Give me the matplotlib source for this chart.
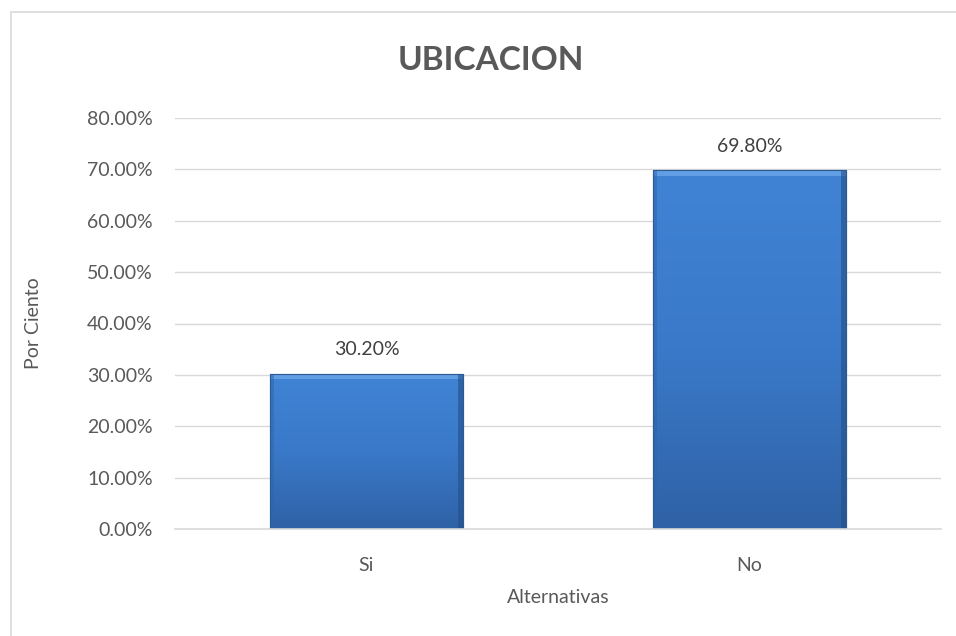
import numpy as np
import matplotlib.pyplot as plt
from matplotlib.patches import Rectangle
from matplotlib.colors import LinearSegmentedColormap

categorias = ["Si", "No"]
porcentajes = [30.20, 69.80]
ticks_y = [0, 10, 20, 30, 40, 50, 60, 70, 80]

plt.rcParams['font.family'] = ['Lato', 'DejaVu Sans']
gris = '#595959'

fig = plt.figure(figsize=(9.56, 6.36), dpi=100)
# chart frame (cut off at the right/bottom edges)
fig.patches.append(Rectangle((11 / 956, -0.01), 1.0, 1 - 12 / 636 + 0.01,
                             transform=fig.transFigure, fill=False,
                             edgecolor='#d9d9d9', linewidth=1.2))

ax = fig.add_axes([175 / 956, 1 - 529 / 636, 766 / 956, (529 - 118) / 636])
x = np.arange(len(categorias))
ancho = 0.505

ax.set_xlim(-0.5, len(categorias) - 0.5)
ax.set_ylim(0, 80)

grad = LinearSegmentedColormap.from_list('azul', ['#2f62a6', '#3a79c9', '#4083d4'])
barras = ax.bar(x, porcentajes, width=ancho, color='#3c7dcc',
                edgecolor='#2b5a96', linewidth=0.8, zorder=2)
for b in barras:
    x0, y0 = b.get_x(), b.get_y()
    w, h = b.get_width(), b.get_height()
    img = ax.imshow(np.linspace(0, 1, 100).reshape(-1, 1), cmap=grad,
                    extent=[x0, x0 + w, y0, y0 + h], origin='lower',
                    aspect='auto', zorder=2.1)
    img.set_clip_path(b)
    # bevel highlight on top and shade on the sides
    ax.add_patch(Rectangle((x0, y0 + h - 1.1), w, 1.1, facecolor='#6aa5e8',
                           edgecolor='none', alpha=0.8, zorder=2.2))
    ax.add_patch(Rectangle((x0 + w * 0.975, y0), w * 0.025, h, facecolor='#244f86',
                           edgecolor='none', alpha=0.6, zorder=2.2))
    ax.add_patch(Rectangle((x0, y0), w * 0.02, h, facecolor='#2f65a8',
                           edgecolor='none', alpha=0.5, zorder=2.2))
    ax.add_patch(Rectangle((x0, y0), w, h, fill=False, edgecolor='#2b5a96',
                           linewidth=0.8, zorder=2.3))
    ax.text(b.get_x() + w / 2, h + 3.0, f"{h:.2f}%", ha='center', va='bottom',
            fontsize=14, color='#404040')

ax.set_yticks(ticks_y)
ax.set_yticklabels([f"{t:.2f}%" for t in ticks_y])
ax.set_xticks(x)
ax.set_xticklabels(categorias)
ax.tick_params(axis='both', length=0, labelsize=14, labelcolor=gris)
ax.tick_params(axis='y', pad=16)
ax.tick_params(axis='x', pad=20)
ax.grid(axis='y', color='#d9d9d9', linewidth=1, zorder=0)
ax.set_axisbelow(True)
for s in ['top', 'right', 'left']:
    ax.spines[s].set_visible(False)
ax.spines['bottom'].set_color('#d9d9d9')
ax.spines['bottom'].set_linewidth(1.2)

ax.set_ylabel("Por Ciento", fontsize=14, color=gris)
ax.yaxis.set_label_coords(-0.174, 0.5)
ax.set_xlabel("Alternativas", fontsize=14, color=gris, labelpad=11)

fig.text(0.5 + 0.013, 1 - 60 / 636, "UBICACION", ha='center', va='center',
         fontsize=24, fontweight='bold', color='#595959')

fig.savefig("out.png", dpi=100)
